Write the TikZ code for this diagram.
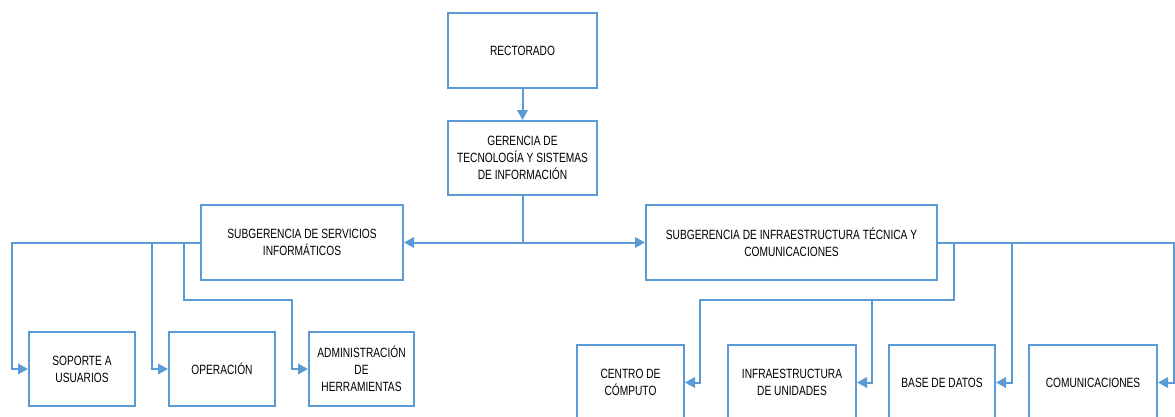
\documentclass[tikz,border=0pt]{standalone}
\usepackage{fontspec}
\setmainfont{Liberation Sans}[FakeStretch=0.76]
\usetikzlibrary{arrows.meta,calc}
\definecolor{orgblue}{RGB}{91,155,213}

\begin{document}
\begin{tikzpicture}[x=1pt,y=-1pt,
        unit/.style={draw=orgblue, line width=2pt, fill=white, align=center,
                     inner sep=2pt, font=\fontsize{13.4}{17}\selectfont},
        link/.style={draw=orgblue, line width=2pt},
        arrow/.style={link, -{Triangle[length=10pt,width=10.5pt]}}]
                \clip (0,0) rectangle (1175,416);
                \useasboundingbox (0,0) rectangle (1175,416);

                % Top of the chart
                \node[unit, minimum width=149, minimum height=75] (rectorado) at (522.5,50.5) {RECTORADO};
                \node[unit, minimum width=149, minimum height=74] (gerencia) at (522.5,158) {GERENCIA DE\\TECNOLOGÍA Y SISTEMAS\\DE INFORMACIÓN};

                % Subgerencias
                \node[unit, minimum width=202, minimum height=75] (subserv) at (302,242.5) {SUBGERENCIA DE SERVICIOS\\INFORMÁTICOS};
                \node[unit, minimum width=291, minimum height=75] (subinfra) at (791.5,242.5) {SUBGERENCIA DE INFRAESTRUCTURA TÉCNICA Y\\COMUNICACIONES};

                % Servicios informaticos
                \node[unit, minimum width=106, minimum height=74] (soporte) at (82,369) {SOPORTE A\\USUARIOS};
                \node[unit, minimum width=106, minimum height=74] (operacion) at (222,369) {OPERACIÓN};
                \node[unit, minimum width=105, minimum height=74] (admin) at (361.5,369) {ADMINISTRACIÓN\\DE\\HERRAMIENTAS};

                % Infraestructura tecnica
                \node[unit, minimum width=107, minimum height=75] (centro) at (630.5,382.5) {CENTRO DE\\CÓMPUTO};
                \node[unit, minimum width=128, minimum height=75] (infraunid) at (792,382.5) {INFRAESTRUCTURA\\DE UNIDADES};
                \node[unit, minimum width=106, minimum height=75] (basedatos) at (942,382.5) {BASE DE DATOS};
                \node[unit, minimum width=128, minimum height=75] (comunic) at (1093,382.5) {COMUNICACIONES};

                % Connectors from the top
                \draw[arrow] (rectorado) -- (gerencia);
                \coordinate (split) at (gerencia.south |- subserv.east);
                \draw[link] (gerencia) -- (split);
                \draw[arrow] (split) -- (subserv.east);
                \draw[arrow] (split) -- (subinfra.west);

                % Left branch
                \draw[arrow] (subserv.west) -- ++(-188,0) |- (soporte.west);
                \draw[arrow] ($(subserv.west)+(-48,0)$) |- (operacion.west);
                \draw[arrow] ($(subserv.west)+(-16,0)$) -- ++(0,57) -| ($(admin.west)+(-16,0)$) -- (admin.west);

                % Right branch
                \draw[arrow] (subinfra.east) -- ++(236,0) |- (comunic.east);
                \draw[arrow] ($(subinfra.east)+(74,0)$) |- (basedatos.east);
                \draw[arrow] ($(subinfra.east)+(16,0)$) -- ++(0,57) -| ($(centro.east)+(15,0)$) -- (centro.east);
                \draw[arrow] ($(subinfra.east)+(-66,57)$) |- (infraunid.east);
\end{tikzpicture}
\end{document}
